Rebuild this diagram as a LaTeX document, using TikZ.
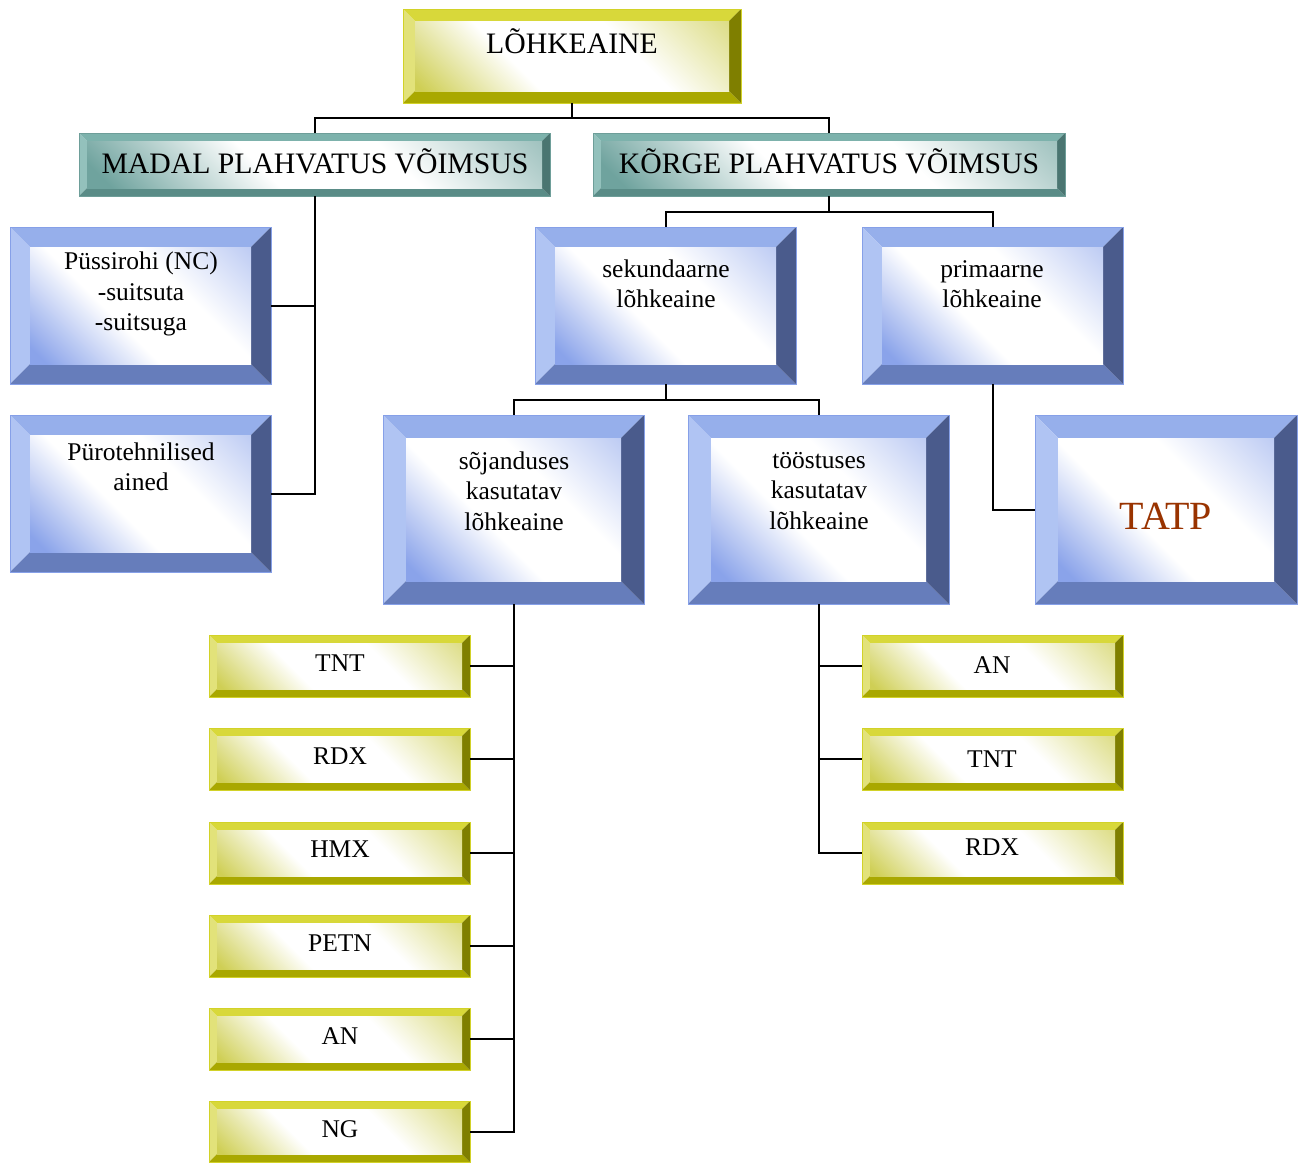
\documentclass[tikz,border=0pt]{standalone}
\usepackage{fontspec}
\setmainfont{Liberation Serif}
\definecolor{BT}{HTML}{96AFEB}
\definecolor{BL}{HTML}{B0C4F3}
\definecolor{BB}{HTML}{667DBB}
\definecolor{BR}{HTML}{4A5B8C}
\definecolor{BF}{HTML}{8AA3EA}
\definecolor{BO}{HTML}{86A0E8}
\definecolor{YT}{HTML}{D8D83A}
\definecolor{YL}{HTML}{E2E27A}
\definecolor{YB}{HTML}{A9A800}
\definecolor{YR}{HTML}{7F7F00}
\definecolor{YF}{HTML}{CFCF55}
\definecolor{YO}{HTML}{D2D228}
\definecolor{TT}{HTML}{7DB2AC}
\definecolor{TL}{HTML}{93C1BC}
\definecolor{TB}{HTML}{5A8C87}
\definecolor{TR}{HTML}{4A7571}
\definecolor{TF}{HTML}{6FA39E}
\definecolor{TO}{HTML}{6E9E99}
\definecolor{tatpred}{HTML}{993300}
\pgfdeclareverticalshading{Bface}{100bp}{color(0bp)=(BF); color(18bp)=(BF); color(42bp)=(white); color(62bp)=(white); color(85bp)=(BF!55!white); color(100bp)=(BF!55!white)}
\pgfdeclareverticalshading{Yface}{100bp}{color(0bp)=(YF); color(16bp)=(YF); color(38bp)=(white); color(62bp)=(white); color(85bp)=(YF!70!white); color(100bp)=(YF!70!white)}
\pgfdeclareverticalshading{Tface}{100bp}{color(0bp)=(TF); color(18bp)=(TF); color(42bp)=(white); color(62bp)=(white); color(85bp)=(TF!65!white); color(100bp)=(TF!65!white)}
\newcommand\bvbox[7]{%
  \fill[#7T] (#2,#3) -- (#4,#3) -- ({#4-#6},{#3+#6}) -- ({#2+#6},{#3+#6}) -- cycle;
  \fill[#7L] (#2,#3) -- ({#2+#6},{#3+#6}) -- ({#2+#6},{#5-#6}) -- (#2,#5) -- cycle;
  \fill[#7B] (#2,#5) -- ({#2+#6},{#5-#6}) -- ({#4-#6},{#5-#6}) -- (#4,#5) -- cycle;
  \fill[#7R] (#4,#3) -- (#4,#5) -- ({#4-#6},{#5-#6}) -- ({#4-#6},{#3+#6}) -- cycle;
  \shade[shading=#7face, shading angle=-45] ({#2+#6},{#3+#6}) rectangle ({#4-#6},{#5-#6});
  \draw[#7O, line width=0.8] (#2,#3) rectangle (#4,#5);
  \node[boxnode, minimum width={(#4-#2)*1pt}, minimum height={(#5-#3)*1pt}] (#1) at ({(#2+#4)/2},{(#3+#5)/2}) {};
}
\tikzset{
  boxnode/.style={rectangle, draw=none, inner sep=0pt, outer sep=0pt},
  conn/.style={draw=black, line width=2pt},
  bigtxt/.style={inner sep=0pt, font=\fontsize{29.7}{33}\selectfont},
  smtxt/.style={inner sep=0pt, align=center, font=\fontsize{25.5}{30.5}\selectfont},
  tatptxt/.style={inner sep=0pt, text=tatpred, font=\fontsize{40}{44}\selectfont}
}
\begin{document}
\begin{tikzpicture}[x=1pt,y=-1pt]
\useasboundingbox (0,0) rectangle (1299,1163);
% boxes
\bvbox{top}{403}{9}{741}{103}{12}{Y}
\bvbox{madal}{79}{133}{550}{196}{8}{T}
\bvbox{korge}{593}{133}{1065}{196}{8}{T}
\bvbox{puss}{10}{227}{271}{384}{20}{B}
\bvbox{puro}{10}{415}{271}{572}{20}{B}
\bvbox{sek}{535}{227}{796}{384}{20}{B}
\bvbox{prim}{862}{227}{1123}{384}{20}{B}
\bvbox{soj}{383}{415}{644}{604}{23}{B}
\bvbox{toos}{688}{415}{949}{604}{23}{B}
\bvbox{tatp}{1035}{415}{1297}{604}{23}{B}
\bvbox{ya}{209}{635}{470}{697}{8}{Y}
\bvbox{yb}{209}{728}{470}{790}{8}{Y}
\bvbox{yc}{209}{822}{470}{884}{8}{Y}
\bvbox{yd}{209}{915}{470}{977}{8}{Y}
\bvbox{ye}{209}{1008}{470}{1070}{8}{Y}
\bvbox{yf}{209}{1101}{470}{1162}{8}{Y}
\bvbox{ra}{862}{635}{1123}{697}{8}{Y}
\bvbox{rb}{862}{728}{1123}{790}{8}{Y}
\bvbox{rc}{862}{822}{1123}{884}{8}{Y}
% texts
\node[bigtxt] (t-top) at (572,41) {LÕHKEAINE};
\node[bigtxt] (t-madal) at (315,161) {MADAL PLAHVATUS VÕIMSUS};
\node[bigtxt] (t-korge) at (829,161) {KÕRGE PLAHVATUS VÕIMSUS};
\node[smtxt] (t-puss) at (141,294) {Püssirohi (NC)\\-suitsuta\\-suitsuga};
\node[smtxt] (t-puro) at (141,467) {Pürotehnilised\\ained};
\node[smtxt] (t-sek) at (666,284) {sekundaarne\\lõhkeaine};
\node[smtxt] (t-prim) at (992,284) {primaarne\\lõhkeaine};
\node[smtxt] (t-soj) at (514,491) {sõjanduses\\kasutatav\\lõhkeaine};
\node[smtxt] (t-toos) at (819,491) {tööstuses\\kasutatav\\lõhkeaine};
\node[tatptxt] (t-tatp) at (1166,516) {TATP};
\node[smtxt] (t-ya) at (340,663) {TNT};
\node[smtxt] (t-yb) at (340,756) {RDX};
\node[smtxt] (t-yc) at (340,849) {HMX};
\node[smtxt] (t-yd) at (340,943) {PETN};
\node[smtxt] (t-ye) at (340,1036) {AN};
\node[smtxt] (t-yf) at (340,1129) {NG};
\node[smtxt] (t-ra) at (992,665) {AN};
\node[smtxt] (t-rb) at (992,759) {TNT};
\node[smtxt] (t-rc) at (992,847) {RDX};
% connectors
\draw[conn] (top.south) -- ++(0,15) -| (madal.north);
\draw[conn] (top.south) -- ++(0,15) -| (korge.north);
\draw[conn] (madal.south) |- (puss.east);
\draw[conn] (madal.south) |- (puro.east);
\draw[conn] (korge.south) -- ++(0,16) -| (sek.north);
\draw[conn] (korge.south) -- ++(0,16) -| (prim.north);
\draw[conn] (sek.south) -- ++(0,16) -| (soj.north);
\draw[conn] (sek.south) -- ++(0,16) -| (toos.north);
\draw[conn] (prim.south) |- (tatp.west);
\foreach \t in {ya,yb,yc,yd,ye,yf} \draw[conn] (soj.south) |- (\t.east);
\foreach \t in {ra,rb,rc} \draw[conn] (toos.south) |- (\t.west);
\end{tikzpicture}
\end{document}
